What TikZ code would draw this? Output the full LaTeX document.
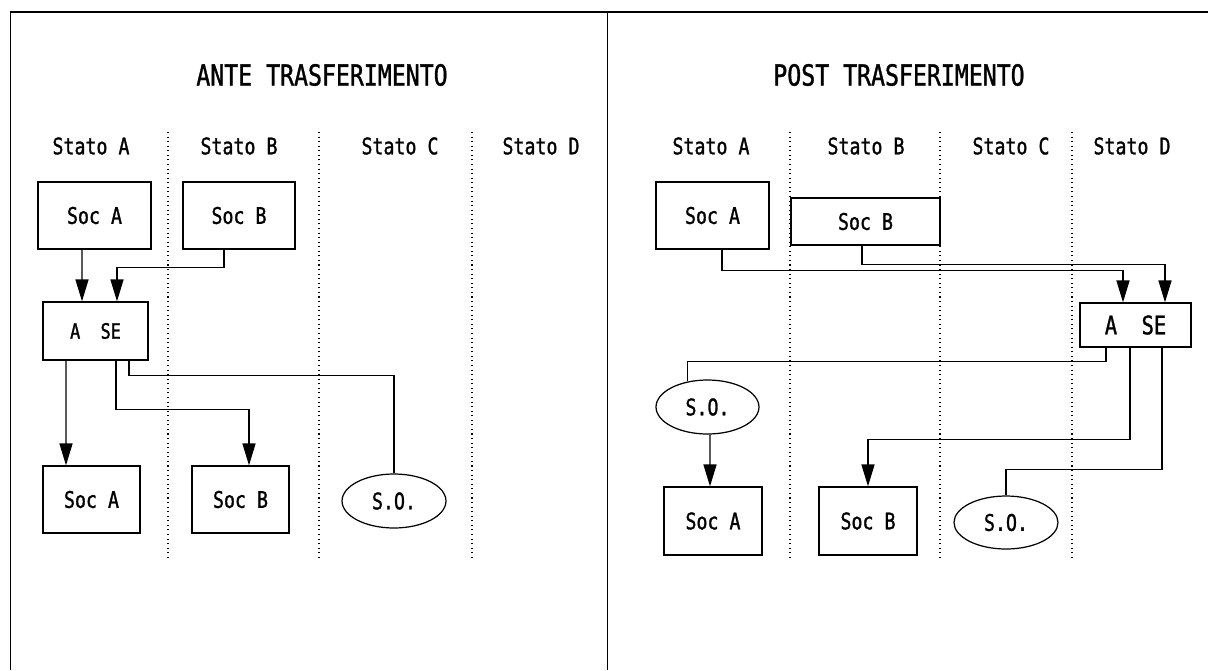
\documentclass[tikz,border=0pt]{standalone}
\usepackage{fontspec}
\usepackage{tikz}
\usetikzlibrary{positioning,shapes,arrows.meta}
\newfontfamily\schemafont[FakeStretch=0.8,FakeBold=1.2]{DejaVu Sans Mono}
\tikzset{
  box/.style={draw, rectangle, inner sep=0pt, line width=0.7pt, font=\schemafont\fontsize{13}{15}\selectfont},
  oval/.style={draw, ellipse, inner sep=0pt, line width=0.7pt, font=\schemafont\fontsize{13}{15}\selectfont},
  lbl/.style={font=\schemafont\fontsize{13}{15}\selectfont},
  ttl/.style={font=\schemafont\fontsize{16.5}{19}\selectfont},
  conn/.style={line width=0.8pt},
  arr/.style={line width=0.8pt, -{Triangle[length=4.4mm,width=2.6mm]}},
  sep/.style={dotted, line width=0.6pt}
}
\begin{document}
\begin{tikzpicture}[x=0.02cm,y=-0.02cm]
\useasboundingbox (0,0) rectangle (1208,670);
% Rahmen
\draw[line width=0.9pt] (10.7,670) -- (10.7,12) -- (1208,12);
\draw[line width=0.9pt] (607.7,12) -- (607.7,670);
% Titel
\node[ttl] (ante) at (322,75) {ANTE TRASFERIMENTO};
\node[ttl] (post) at (899,75) {POST TRASFERIMENTO};
% Stati links
\node[lbl] (aA) at (91,146) {Stato A};
\node[lbl] (aB) at (239,146) {Stato B};
\node[lbl] (aC) at (400,146) {Stato C};
\node[lbl] (aD) at (541,146) {Stato D};
% Stati rechts
\node[lbl] (pA) at (711,146) {Stato A};
\node[lbl] (pB) at (866,146) {Stato B};
\node[lbl] (pC) at (1011,146) {Stato C};
\node[lbl] (pD) at (1132,146) {Stato D};
% Trennlinien
\foreach \x in {168,319,472,790,940,1072}
  \draw[sep] (\x,132) -- (\x,561);
% ante
\node[box, minimum width=2.26cm, minimum height=1.34cm] (sa) at (94.5,215.5) {Soc A};
\node[box, minimum width=2.24cm, minimum height=1.34cm] (sb) at (239,215.5) {Soc B};
\node[box, minimum width=2.10cm, minimum height=1.16cm, font=\schemafont\fontsize{12}{14}\selectfont] (ase) at (95.5,331) {A\ \ SE};
\node[box, minimum width=1.94cm, minimum height=1.34cm] (sa2) at (91.5,499.5) {Soc A};
\node[box, minimum width=1.94cm, minimum height=1.34cm] (sb2) at (240.5,499.5) {Soc B};
\node[oval, minimum width=2.08cm, minimum height=1.08cm] (so) at (394,501) {S.O.};
\draw[arr] ([xshift=-0.25cm]sa.south) -- ([xshift=-0.27cm]ase.north);
\draw[arr] ([xshift=-0.30cm]sb.south) -- ++(0,18) -| ([xshift=0.43cm]ase.north);
\draw[arr] ([xshift=-0.59cm]ase.south) -- ([xshift=-0.51cm]sa2.north);
\draw[arr] ([xshift=0.41cm]ase.south) -- ++(0,49) -| ([xshift=0.17cm]sb2.north);
\draw[conn] ([xshift=0.67cm]ase.south) -- ++(0,15) -| (so.north);
% post
\node[box, minimum width=2.26cm, minimum height=1.34cm] (psa) at (712.5,215.5) {Soc A};
\node[box, minimum width=2.98cm, minimum height=0.94cm] (psb) at (865.5,221.5) {Soc B};
\node[box, minimum width=2.22cm, minimum height=0.88cm, font=\schemafont\fontsize{14.5}{17}\selectfont] (pase) at (1135.5,325) {A\ \ SE};
\node[oval, minimum width=2.06cm, minimum height=1.08cm] (pso) at (707.5,407) {S.O.};
\node[box, minimum width=1.96cm, minimum height=1.36cm] (psa2) at (713,521) {Soc A};
\node[box, minimum width=1.96cm, minimum height=1.36cm] (psb2) at (868,521) {Soc B};
\node[oval, minimum width=2.08cm, minimum height=1.06cm] (pso2) at (1006,522.5) {S.O.};
\draw[arr] ([xshift=0.19cm]psa.south) -- ++(0,21) -| ([xshift=-0.25cm]pase.north);
\draw[arr] ([xshift=-0.07cm]psb.south) -- ++(0,19) -| ([xshift=0.59cm]pase.north);
\draw[conn] ([xshift=-0.59cm]pase.south) -- ++(0,14) -| (pso.128);
\draw[arr] ([xshift=0.05cm]pso.south) -- ([xshift=-0.06cm]psa2.north);
\draw[arr] ([xshift=-0.11cm]pase.south) -- ++(0,92) -| (psb2.north);
\draw[conn] ([xshift=0.53cm]pase.south) -- ++(0,122) -| (pso2.north);
\end{tikzpicture}
\end{document}
